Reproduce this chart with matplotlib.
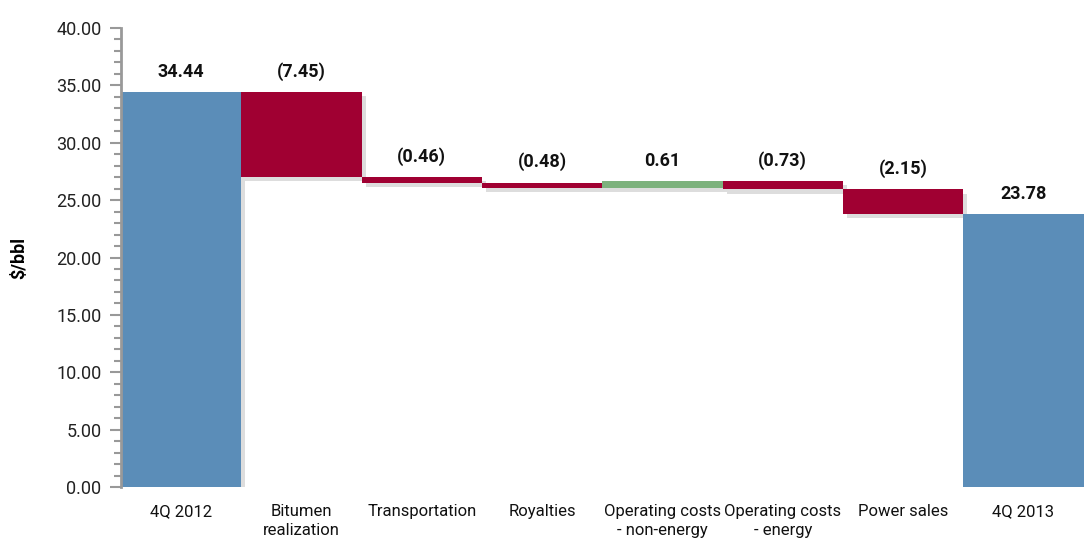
import matplotlib
matplotlib.use("Agg")
import matplotlib.pyplot as plt
import matplotlib.patheffects as pe
from matplotlib.ticker import MultipleLocator, FormatStrFormatter

plt.rcParams['font.family'] = ['Roboto', 'DejaVu Sans']

categories = ['4Q 2012', 'Bitumen\nrealization', 'Transportation', 'Royalties',
              'Operating costs\n- non-energy', 'Operating costs\n- energy',
              'Power sales', '4Q 2013']
changes = [34.44, -7.45, -0.46, -0.48, 0.61, -0.73, -2.15, 23.78]
labels = ['34.44', '(7.45)', '(0.46)', '(0.48)', '0.61', '(0.73)', '(2.15)', '23.78']
kinds = ['total', 'delta', 'delta', 'delta', 'delta', 'delta', 'delta', 'total']

blue = '#5B8DB8'
red = '#A00032'
green = '#7DB27D'

fig = plt.figure(figsize=(10.84, 5.44), dpi=100)
ax = fig.add_axes([0.1116, 0.1048, 0.888, 0.8437])

shadow = [pe.SimplePatchShadow(offset=(3, -3), shadow_rgbFace='#aaaaaa', alpha=0.4), pe.Normal()]

level = 0.0
for i, (c, k) in enumerate(zip(changes, kinds)):
    if k == 'total':
        bottom, height, col = 0, c, blue
        level = c
        top = c
    else:
        bottom = level + min(c, 0)
        height = abs(c)
        col = green if c > 0 else red
        top = max(level, level + c)
        level += c
    ax.bar(i, height, bottom=bottom, width=1.0, color=col, path_effects=shadow, zorder=2)
    ax.annotate(labels[i], (i, top), xytext=(0, 8), textcoords='offset points',
                ha='center', va='bottom', fontsize=13, fontweight='bold', color='#111111')

ax.set_xlim(-0.5, 7.5)
ax.set_ylim(0, 40)
ax.yaxis.set_major_locator(MultipleLocator(5))
ax.yaxis.set_minor_locator(MultipleLocator(1))
ax.yaxis.set_major_formatter(FormatStrFormatter('%.2f'))
ax.set_xticks(range(len(categories)))
ax.set_xticklabels(categories, fontsize=12, color='#111111', linespacing=1.4)
ax.tick_params(axis='x', length=0, pad=12)
ax.tick_params(axis='y', which='major', length=8, width=1.5, color='#999999', labelsize=13, labelcolor='#222222', pad=6)
ax.tick_params(axis='y', which='minor', length=5, width=1.5, color='#999999')
for s in ['top', 'right', 'bottom']:
    ax.spines[s].set_visible(False)
ax.spines['left'].set_color('#999999')
ax.spines['left'].set_linewidth(2)
ax.set_ylabel('$/bbl', fontsize=13, fontweight='bold', labelpad=20)

fig.savefig('out.png', dpi=100)
